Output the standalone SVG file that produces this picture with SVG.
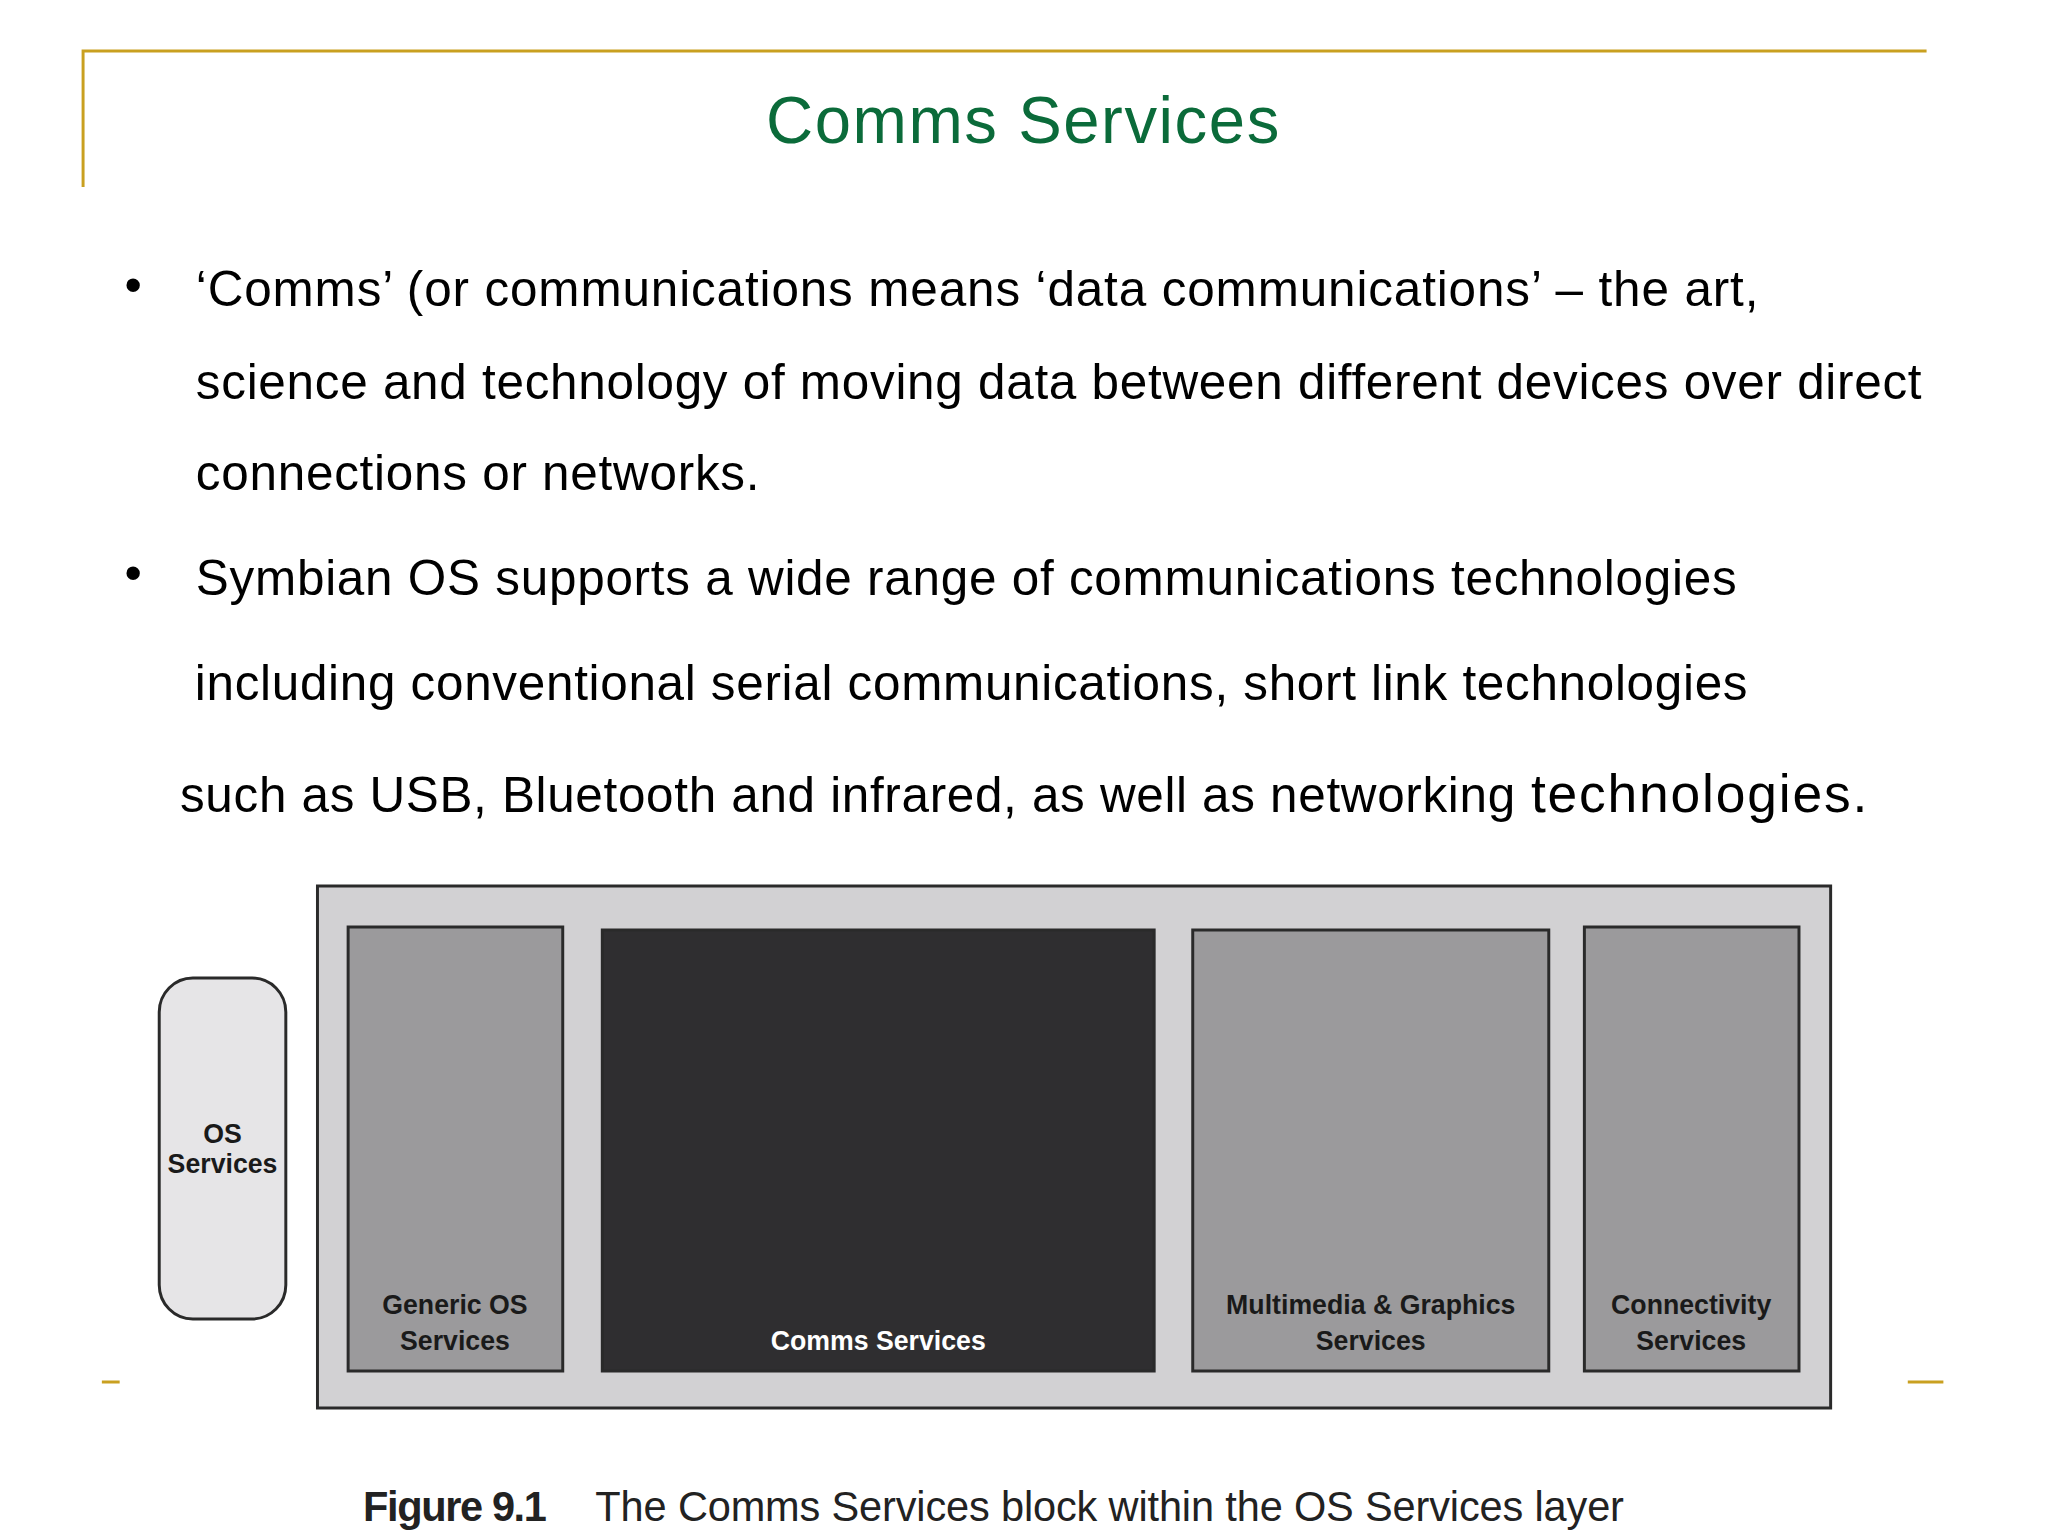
<svg xmlns="http://www.w3.org/2000/svg" width="2048" height="1536" viewBox="0 0 2048 1536">
<style>
.b{font-family:"Liberation Sans",Arial,sans-serif;font-size:50px;fill:#000}
.lbl{font-family:"Liberation Sans",Arial,sans-serif;font-size:27px;font-weight:bold;fill:#1a1a1a;text-anchor:middle}
.box{stroke:#2a2a2a;stroke-width:3}
.gold{stroke:#c9a020;stroke-width:3;fill:none}
</style>
<rect width="2048" height="1536" fill="#fff"/>
<g transform="scale(0.989,1)">
<path class="gold" d="M84,187 V51 H1948"/>
<path class="gold" d="M103,1382 H121 M1929,1382 H1965"/>
<text x="1034" y="143" font-family="Liberation Sans,Arial,sans-serif" font-size="66" fill="#0b6b3a" text-anchor="middle" textLength="519">Comms Services</text>
<g class="b">
<text x="126" y="302">•</text>
<text x="198" y="306" textLength="1580">‘Comms’ (or communications means ‘data communications’ – the art,</text>
<text x="198" y="399" textLength="1745">science and technology of moving data between different devices over direct</text>
<text x="198" y="490" textLength="570">connections or networks.</text>
<text x="126" y="590">•</text>
<text x="198" y="595" textLength="1558">Symbian OS supports a wide range of communications technologies</text>
<text x="197" y="700" textLength="1570">including conventional serial communications, short link technologies</text>
<text x="182" y="812"><tspan textLength="1350">such as USB, Bluetooth and infrared, as well as networking</tspan><tspan x="1548" font-size="54" textLength="340">technologies.</tspan></text>
</g>
<g id="os-services-layer"><rect x="321" y="886" width="1530" height="522" fill="#d2d1d3" class="box"/></g>
<g id="os-services"><rect x="161" y="978" width="128" height="341" rx="34" fill="#e6e5e7" class="box"/>
<text class="lbl" x="225" y="1143">OS</text><text class="lbl" x="225" y="1173">Services</text></g>
<g id="generic"><rect x="352" y="927" width="217" height="444" fill="#9b9a9c" class="box"/>
<text class="lbl" x="460" y="1314">Generic OS</text><text class="lbl" x="460" y="1350">Services</text></g>
<g id="comms"><rect x="609" y="930" width="558" height="441" fill="#2f2e30" class="box"/>
<text class="lbl" x="888" y="1350" style="fill:#fff">Comms Services</text></g>
<g id="multimedia"><rect x="1206" y="930" width="360" height="441" fill="#9b9a9c" class="box"/>
<text class="lbl" x="1386" y="1314">Multimedia &amp; Graphics</text><text class="lbl" x="1386" y="1350">Services</text></g>
<g id="connectivity"><rect x="1602" y="927" width="217" height="444" fill="#9b9a9c" class="box"/>
<text class="lbl" x="1710" y="1314">Connectivity</text><text class="lbl" x="1710" y="1350">Services</text></g>
<g id="connectors"/>
<text x="367" y="1521" font-family="Liberation Sans,Arial,sans-serif" font-size="42" fill="#222"><tspan font-weight="bold" textLength="186">Figure 9.1</tspan><tspan x="602" textLength="1040">The Comms Services block within the OS Services layer</tspan></text>
</g>
</svg>
